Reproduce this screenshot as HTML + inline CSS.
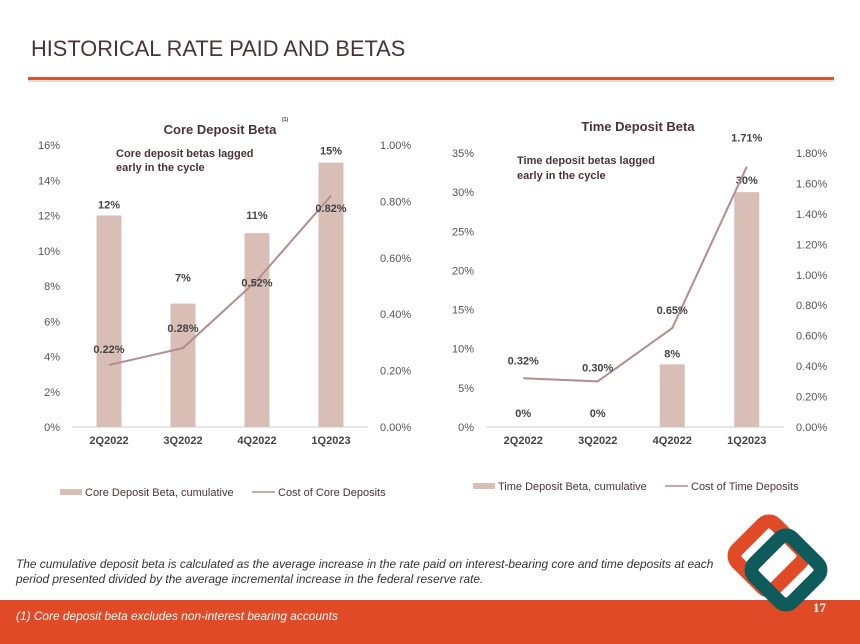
<!DOCTYPE html>
<html><head><meta charset="utf-8"><style>
body{margin:0;width:860px;height:644px;overflow:hidden;background:#fff;font-family:"Liberation Sans",sans-serif;position:relative}
.t{position:absolute}
</style></head><body>
<div class="t" style="left:31px;top:36px;font-size:21.8px;color:#4a3336">HISTORICAL RATE PAID AND BETAS</div>
<div class="t" style="left:28px;top:77px;width:806px;height:3px;background:#d9552b;border-bottom:2px solid #ddd"></div>
<svg id="c" width="860" height="644" style="position:absolute;left:0;top:0"></svg>
<div class="t" style="left:16px;top:557px;font-size:11.9px;font-style:italic;color:#333;line-height:15px">The cumulative deposit beta is calculated as the average increase in the rate paid on interest-bearing core and time deposits at each<br>period presented divided by the average incremental increase in the federal reserve rate.</div>
<div class="t" style="left:0;top:600px;width:860px;height:44px;background:#e04a26"></div>
<div class="t" style="left:16px;top:609px;font-size:11.9px;font-style:italic;color:#fff">(1) Core deposit beta excludes non-interest bearing accounts</div>
<svg width="860" height="644" style="position:absolute;left:0;top:0">
<rect x="742" y="529" width="54" height="54" rx="9" transform="rotate(45 769 556)" fill="none" stroke="#e04a26" stroke-width="14"/>
<rect x="759" y="543" width="54" height="54" rx="9" transform="rotate(45 786 570)" fill="none" stroke="#0f5b5c" stroke-width="14"/>
</svg>
<div class="t" style="left:813px;top:600px;font-size:13px;color:#fff;font-family:'Liberation Serif',serif;font-weight:bold">17</div>
<script>
const cats=["2Q2022","3Q2022","4Q2022","1Q2023"];
const coreBeta=[12,7,11,15];
const coreCost=[0.22,0.28,0.52,0.82];
const coreLeftTicks=[0,2,4,6,8,10,12,14,16];
const coreRightTicks=[0,0.2,0.4,0.6,0.8,1.0];
const timeBeta=[0,0,8,30];
const timeCost=[0.32,0.30,0.65,1.71];
const timeLeftTicks=[0,5,10,15,20,25,30,35];
const timeRightTicks=[0,0.2,0.4,0.6,0.8,1.0,1.2,1.4,1.6,1.8];
const svg=document.getElementById('c');const NS="http://www.w3.org/2000/svg";
function mk(t,a,txt){const e=document.createElementNS(NS,t);for(const k in a)e.setAttribute(k,a[k]);if(txt!=null)e.textContent=txt;svg.appendChild(e);return e;}
function chart(o){
 const yL=v=>o.y0-(v/o.lmax)*(o.y0-o.ytop), yR=v=>o.y0-(v/o.rmax)*(o.y0-o.ytop);
 const step=(o.x1-o.x0)/cats.length, xc=i=>o.x0+step*(i+0.5);
 o.lt.forEach(v=>{const e=mk('text',{x:o.x0-12,y:yL(v)+4,'text-anchor':'end','font-size':11,fill:'#555'},v+'%');});
 o.rt.forEach(v=>{const e=mk('text',{x:o.x1+12,y:yR(v)+4,'font-size':11,fill:'#555'},v.toFixed(2)+'%');});
 const ax=mk('line',{x1:o.x0,x2:o.x1,y1:o.y0,y2:o.y0,stroke:'#ccc'});
 o.bars.forEach((v,i)=>{const b=mk('rect',{x:xc(i)-12.5,y:yL(v),width:25,height:o.y0-yL(v),fill:'#d8beb5'});
  const l=mk('text',{x:xc(i),y:(v>0?yL(v)-7:o.y0-8)+o.blOff[i],'text-anchor':'middle','font-size':11,'font-weight':'bold',fill:'#444'},v+'%');
  const c=mk('text',{x:xc(i),y:o.y0+17,'text-anchor':'middle','font-size':11,'font-weight':'bold',fill:'#444'},cats[i]);});
 const p=mk('polyline',{points:o.line.map((v,i)=>xc(i)+','+yR(v)).join(' '),fill:'none',stroke:'#b38d8d','stroke-width':2});
 o.line.forEach((v,i)=>{const l=mk('text',{x:xc(i),y:yR(v)-o.ll[i],'text-anchor':'middle','font-size':11,'font-weight':'bold',fill:'#444'},v.toFixed(2)+'%');});
}
chart({x0:72,x1:368,y0:427,ytop:145,lmax:16,rmax:1,lt:coreLeftTicks,rt:coreRightTicks,bars:coreBeta,line:coreCost,blOff:[0,-15,-7,-1],ll:[12,16,-6,-16]});
chart({x0:486,x1:784,y0:427,ytop:153,lmax:35,rmax:1.8,lt:timeLeftTicks,rt:timeRightTicks,bars:timeBeta,line:timeCost,blOff:[-2,-2,0,-1],ll:[14,10,14,25]});
function txt(x,y,s,fs,w,name,anchor){const e=mk('text',{x:x,y:y,'font-size':fs,'font-weight':w,fill:'#4a3336','text-anchor':anchor||'start'},s);}
txt(220,134,'Core Deposit Beta',13,'bold','core-chart-title','middle');
txt(282,121,'(1)',5,'bold','core-title-footnote');
txt(116,157,'Core deposit betas lagged',11,'bold','core-annotation');
txt(116,171,'early in the cycle',11,'bold','core-annotation-2');
txt(638,131,'Time Deposit Beta',13,'bold','time-chart-title','middle');
txt(517,164,'Time deposit betas lagged',11,'bold','time-annotation');
txt(517,179,'early in the cycle',11,'bold','time-annotation-2');
const lg=[[60,496,'Core Deposit Beta, cumulative',252,'Cost of Core Deposits'],[473,490,'Time Deposit Beta, cumulative',665,'Cost of Time Deposits']];
lg.forEach(g=>{const r=mk('rect',{x:g[0],y:g[1]-7,width:22,height:6,fill:'#d8beb5'});
 txt(g[0]+25,g[1],g[2],11,'normal','legend-bar-entry');
 const l=mk('line',{x1:g[3],x2:g[3]+23,y1:g[1]-4,y2:g[1]-4,stroke:'#b38d8d','stroke-width':1.5});
 txt(g[3]+26,g[1],g[4],11,'normal','legend-line-entry');});
</script>
</body></html>
